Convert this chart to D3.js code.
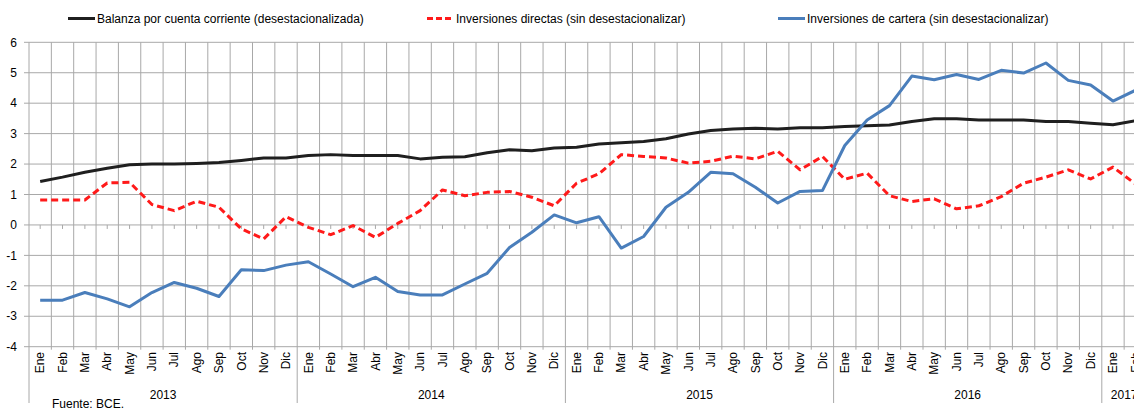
<!DOCTYPE html>
<html>
<head>
<meta charset="utf-8">
<script src="https://cdn.jsdelivr.net/npm/d3@7"></script>
<style>
  body { margin: 0; background: #fff; }
  svg { display: block; font-family: "Liberation Sans", Arial, sans-serif; }
</style>
</head>
<body>
<div id="chart"></div>
<script>
//month labels and years
var monthNames = ["Ene","Feb","Mar","Abr","May","Jun","Jul","Ago","Sep","Oct","Nov","Dic"];
var years = ["2013","2014","2015","2016","2017"];
var yTicks = [6,5,4,3,2,1,0,-1,-2,-3,-4];

//series
var balanza = [1.43,1.57,1.73,1.86,1.98,2.0,2.0,2.02,2.05,2.12,2.2,2.2,
               2.28,2.31,2.28,2.28,2.28,2.17,2.22,2.24,2.37,2.47,2.44,2.53,
               2.55,2.66,2.7,2.74,2.83,2.99,3.1,3.15,3.18,3.15,3.19,3.19,
               3.23,3.26,3.28,3.4,3.49,3.49,3.45,3.45,3.45,3.4,3.4,3.34,
               3.29,3.42];
var directas = [0.82,0.82,0.82,1.38,1.4,0.67,0.47,0.78,0.58,-0.13,-0.46,0.27,
                -0.08,-0.32,-0.02,-0.41,0.05,0.47,1.15,0.96,1.07,1.1,0.91,0.63,
                1.37,1.68,2.31,2.25,2.2,2.03,2.09,2.26,2.17,2.42,1.81,2.25,
                1.5,1.7,0.96,0.77,0.86,0.53,0.63,0.93,1.37,1.57,1.81,1.51,
                1.9,1.35];
var cartera = [-2.47,-2.47,-2.22,-2.43,-2.69,-2.22,-1.89,-2.08,-2.35,-1.47,-1.5,-1.32,
               -1.21,-1.61,-2.03,-1.72,-2.19,-2.3,-2.3,-1.94,-1.59,-0.74,-0.24,0.33,
               0.07,0.27,-0.76,-0.38,0.58,1.07,1.73,1.68,1.24,0.72,1.1,1.13,
               2.61,3.45,3.92,4.89,4.77,4.94,4.78,5.08,4.99,5.32,4.75,4.6,
               4.07,4.42];

var series = [
    {name: "Balanza por cuenta corriente (desestacionalizada)", values: balanza, color: "#1f1f1f", dash: null, lx: 68},
    {name: "Inversiones directas (sin desestacionalizar)", values: directas, color: "#ff1a1a", dash: "7,4", lx: 427},
    {name: "Inversiones de cartera (sin desestacionalizar)", values: cartera, color: "#4a7ebb", dash: null, lx: 778}
];

//build month keys
var months = [];
years.forEach(function(yr) {
    monthNames.forEach(function(m) { months.push(yr + "-" + m); });
});
months = months.slice(0, balanza.length);

var width = 1134, height = 412;
var plotLeft = 29, plotTop = 42.3, plotBottom = 346.7;
var band = 22.35;
var fontSize = 12;

var svg = d3.select("#chart").append("svg")
    .attr("width", width)
    .attr("height", height);

var x = d3.scaleBand()
    .domain(months)
    .range([plotLeft, plotLeft + band * months.length]);

var y = d3.scaleLinear()
    .domain([-4, 6])
    .range([plotBottom, plotTop]);

var grid = svg.append("g").attr("class", "grid");

//horizontal gridlines + y ticks
grid.selectAll("line.h")
    .data(yTicks).enter()
    .append("line")
    .attr("class", "h")
    .attr("x1", plotLeft - 5)
    .attr("x2", width)
    .attr("y1", function(d) { return y(d); })
    .attr("y2", function(d) { return y(d); })
    .attr("stroke", "#a8a8a8")
    .attr("stroke-width", 1);

//vertical gridlines at month boundaries (year boundaries go down further)
grid.selectAll("line.v")
    .data(months).enter()
    .append("line")
    .attr("class", "v")
    .attr("x1", function(d) { return x(d); })
    .attr("x2", function(d) { return x(d); })
    .attr("y1", plotTop)
    .attr("y2", function(d) { return d.slice(5) === "Ene" ? 403 : plotBottom + 3; })
    .attr("stroke", "#a8a8a8")
    .attr("stroke-width", 1);

//small ticks on the zero line
grid.selectAll("line.t")
    .data(months).enter()
    .append("line")
    .attr("class", "t")
    .attr("x1", function(d) { return x(d) + x.bandwidth() / 2; })
    .attr("x2", function(d) { return x(d) + x.bandwidth() / 2; })
    .attr("y1", y(0))
    .attr("y2", y(0) + 4)
    .attr("stroke", "#a8a8a8")
    .attr("stroke-width", 1);

//y labels
svg.append("g").selectAll("text")
    .data(yTicks).enter()
    .append("text")
    .attr("x", 17)
    .attr("y", function(d) { return y(d); })
    .attr("dy", "0.35em")
    .attr("text-anchor", "end")
    .attr("font-size", fontSize)
    .attr("fill", "#000")
    .text(function(d) { return d; });

//month labels
svg.append("g").selectAll("text")
    .data(months).enter()
    .append("text")
    .attr("transform", function(d) {
        return "translate(" + (x(d) + x.bandwidth() / 2) + "," + 352 + ") rotate(-90)";
    })
    .attr("dy", "0.35em")
    .attr("text-anchor", "end")
    .attr("font-size", fontSize)
    .attr("fill", "#000")
    .text(function(d) { return d.slice(5); });

//year labels, centred on the months that year has
svg.append("g").selectAll("text")
    .data(years).enter()
    .append("text")
    .attr("x", function(yr) {
        var own = months.filter(function(m) { return m.slice(0, 4) === yr; });
        var first = x(own[0]);
        var end = x(own[own.length - 1]) + x.bandwidth();
        return (first + end) / 2;
    })
    .attr("y", 399)
    .attr("text-anchor", "middle")
    .attr("font-size", fontSize)
    .attr("fill", "#000")
    .text(function(d) { return d; });

//lines
var line = d3.line()
    .x(function(d, i) { return x(months[i]) + x.bandwidth() / 2; })
    .y(function(d) { return y(d); });

svg.append("g").selectAll("path")
    .data(series).enter()
    .append("path")
    .attr("d", function(s) { return line(s.values); })
    .attr("fill", "none")
    .attr("stroke", function(s) { return s.color; })
    .attr("stroke-width", 3)
    .attr("stroke-linejoin", "round")
    .attr("stroke-dasharray", function(s) { return s.dash; });

//legend
var legend = svg.append("g").selectAll("g")
    .data(series).enter()
    .append("g");

legend.append("line")
    .attr("x1", function(s) { return s.lx; })
    .attr("x2", function(s) { return s.lx + 27; })
    .attr("y1", 18.5)
    .attr("y2", 18.5)
    .attr("stroke", function(s) { return s.color; })
    .attr("stroke-width", 3)
    .attr("stroke-dasharray", function(s) { return s.dash ? "6,3" : null; });

legend.append("text")
    .attr("x", function(s) { return s.lx + 29; })
    .attr("y", 18.5)
    .attr("dy", "0.35em")
    .attr("font-size", fontSize)
    .attr("fill", "#000")
    .text(function(s) { return s.name; });

//source
svg.append("text")
    .attr("x", 52)
    .attr("y", 408)
    .attr("font-size", fontSize)
    .attr("fill", "#000")
    .text("Fuente: BCE.");
</script>
</body>
</html>
